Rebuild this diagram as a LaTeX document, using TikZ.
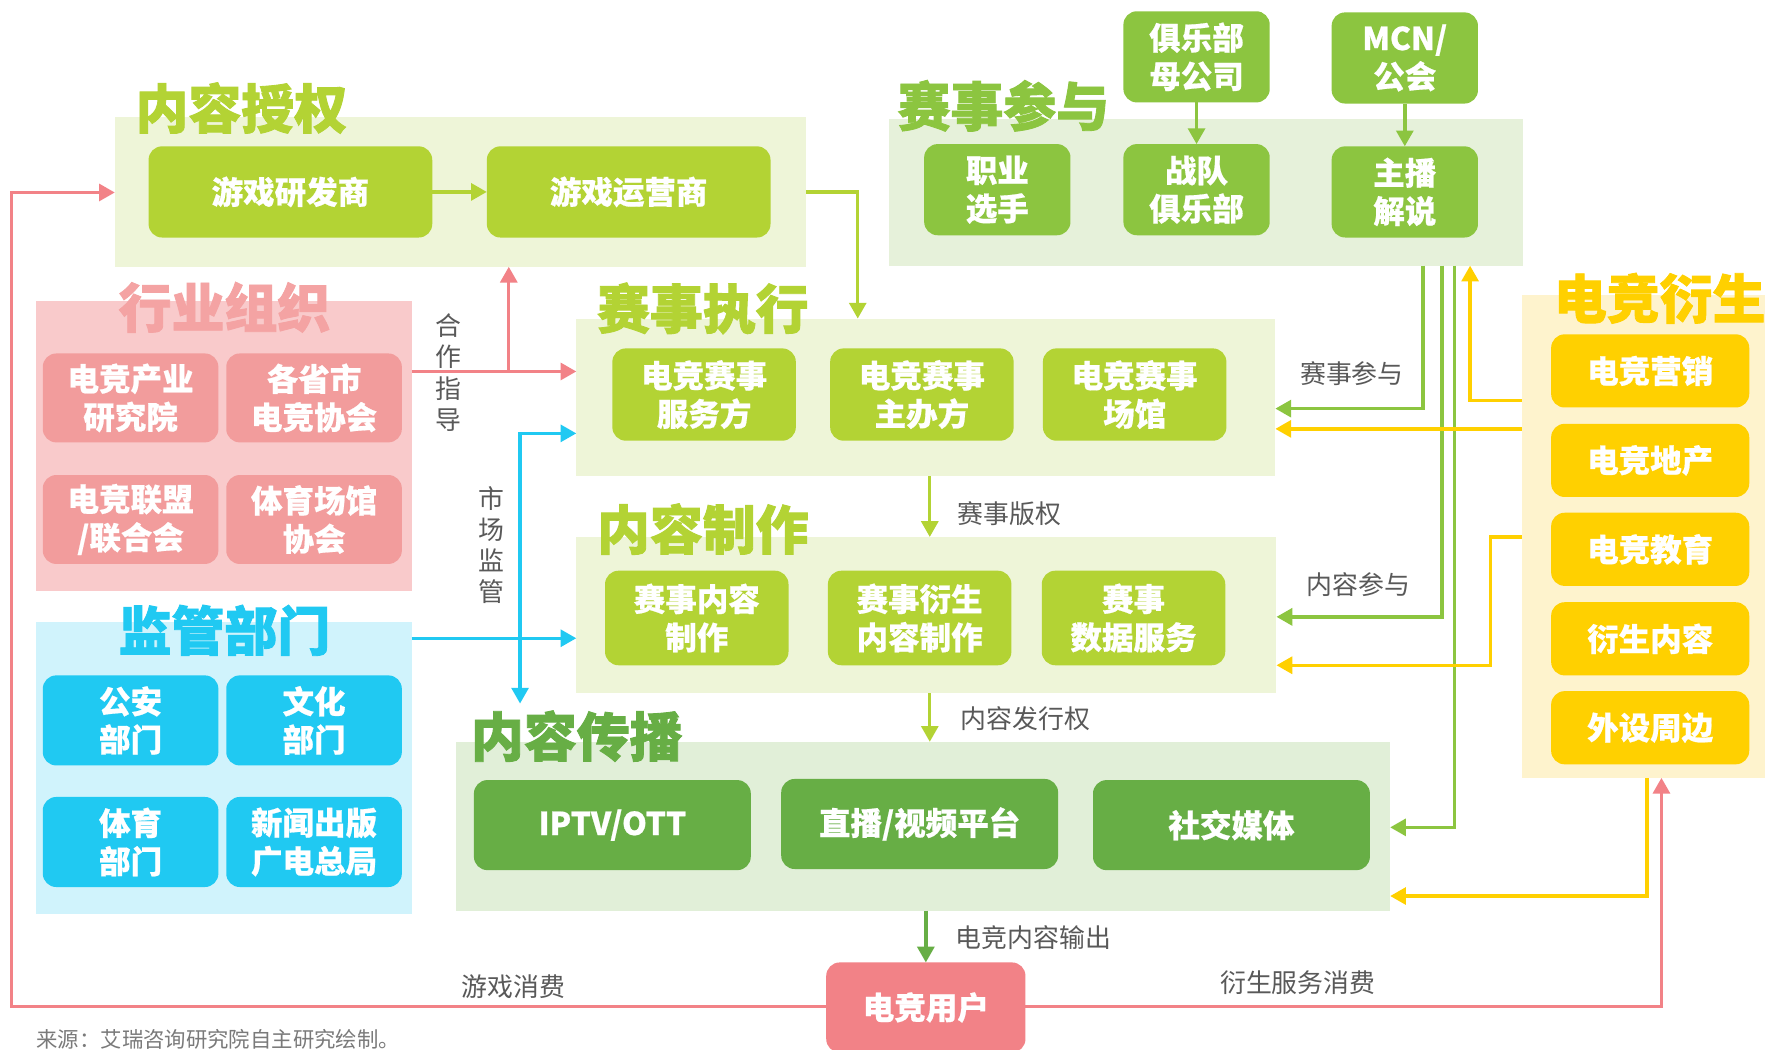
\documentclass[tikz,border=0pt]{standalone}
\usepackage{fontspec}
\setmainfont{Noto Sans CJK SC}
\newfontfamily\heavyfam{Noto Sans CJK SC}[BoldFeatures={FakeBold=1.6}]
\newfontfamily\boxfam{Noto Sans CJK SC}[BoldFeatures={FakeBold=0.6}]
\usetikzlibrary{arrows.meta}
\definecolor{yg}{HTML}{B3D334}
\definecolor{ygl}{HTML}{EEF5D8}
\definecolor{gr}{HTML}{8CC540}
\definecolor{grl}{HTML}{E6F1DA}
\definecolor{dg}{HTML}{67AE45}
\definecolor{dgl}{HTML}{E1EFD8}
\definecolor{pk}{HTML}{F29C9C}
\definecolor{pkl}{HTML}{F9CACB}
\definecolor{pkh}{HTML}{F4A3A3}
\definecolor{pkline}{HTML}{F28287}
\definecolor{cy}{HTML}{20C9F2}
\definecolor{cyl}{HTML}{D0F3FC}
\definecolor{yl}{HTML}{FFD000}
\definecolor{yll}{HTML}{FEF3CD}
\definecolor{tx}{HTML}{595959}
\newcommand\bxfont{\boxfam\fontsize{14}{17}\selectfont\bfseries}
\newcommand\hdfont{\heavyfam\fontsize{23.5}{28}\selectfont\bfseries}
\newcommand\lbfont{\fontsize{11.5}{13.8}\selectfont}
\tikzset{
  panel/.style={draw=none, inner sep=0pt, outer sep=0pt},
  head/.style={anchor=west, inner sep=0pt, font=\hdfont},
  bx/.style={rounded corners=6pt, inner sep=0pt, outer sep=0pt, align=center, text=white, font=\bxfont},
  sA/.style={minimum width=126pt, minimum height=40.5pt},
  sB/.style={minimum width=65pt, minimum height=40.5pt},
  sC/.style={minimum width=78pt, minimum height=39.5pt},
  sD/.style={minimum width=81.5pt, minimum height=41pt},
  sE/.style={minimum width=123pt, minimum height=40pt},
  sF/.style={minimum width=88pt, minimum height=32.5pt},
  lbl/.style={inner sep=0pt, text=tx, font=\lbfont, align=center},
  conn/.style={line width=1.5pt, -{Triangle[length=7pt,width=7.5pt]}},
  cYG/.style={conn, draw=yg},
  cGR/.style={conn, draw=gr},
  cDG/.style={conn, draw=dg},
  cPK/.style={conn, draw=pkline},
  cCY/.style={conn, draw=cy},
  cYL/.style={conn, draw=yl},
}
\begin{document}
\begin{tikzpicture}[x=0.5pt, y=-0.5pt]
\useasboundingbox (0,0) rectangle (1568,932);
\clip (0,0) rectangle (1568,932);
\fill[white] (0,0) rectangle (1568,932);
% panels
\node[panel, fill=ygl, minimum width=307pt, minimum height=66.5pt] (pAuth) at (409,170.5) {};
\node[panel, fill=grl, minimum width=281.5pt, minimum height=65pt] (pPart) at (1071.5,171) {};
\node[panel, fill=pkl, minimum width=167pt, minimum height=129pt] (pInd) at (199,396) {};
\node[panel, fill=cyl, minimum width=167pt, minimum height=129.5pt] (pReg) at (199,682.5) {};
\node[panel, fill=ygl, minimum width=310.5pt, minimum height=70pt] (pExec) at (822.5,353) {};
\node[panel, fill=ygl, minimum width=311pt, minimum height=69.5pt] (pProd) at (823,546.5) {};
\node[panel, fill=dgl, minimum width=415pt, minimum height=75pt] (pDist) at (820,734) {};
\node[panel, fill=yll, minimum width=108pt, minimum height=214.5pt] (pDeriv) at (1460,476.5) {};
% headings
\node[head, text=yg] (hAuth) at (120,96) {内容授权};
\node[head, text=pkh] (hInd) at (105,273) {行业组织};
\node[head, text=yg] (hExec) at (530,274) {赛事执行};
\node[head, text=gr] (hPart) at (797,94) {赛事参与};
\node[head, text=yg] (hProd) at (530,470) {内容制作};
\node[head, text=cy] (hReg) at (105,560) {监管部门};
\node[head, text=dg] (hDist) at (418,654) {内容传播};
\node[head, text=yl] (hDeriv) at (1380,265) {电竞衍生};
% boxes
\node[bx, sA, fill=yg] (bDev) at (258,170.5) {游戏研发商};
\node[bx, sA, fill=yg] (bOp) at (558.5,170.5) {游戏运营商};
\node[bx, sB, fill=gr] (bParent) at (1063,50.5) {俱乐部\\母公司};
\node[bx, sB, fill=gr] (bMCN) at (1248,51.5) {MCN/\\公会};
\node[bx, sB, fill=gr] (bPlayer) at (886,168.5) {职业\\选手};
\node[bx, sB, fill=gr] (bTeam) at (1063,168.5) {战队\\俱乐部};
\node[bx, sB, fill=gr] (bHost) at (1248,170.5) {主播\\解说};
\node[bx, sC, fill=pk] (bInst) at (116,353.5) {电竞产业\\研究院};
\node[bx, sC, fill=pk] (bProv) at (279,353.5) {各省市\\电竞协会};
\node[bx, sC, fill=pk] (bLeague) at (116,461.5) {电竞联盟\\/联合会};
\node[bx, sC, fill=pk] (bVenA) at (279,461.5) {体育场馆\\协会};
\node[bx, sC, minimum height=40pt, fill=cy] (bPolice) at (116,640) {公安\\部门};
\node[bx, sC, minimum height=40pt, fill=cy] (bCult) at (279,640) {文化\\部门};
\node[bx, sC, minimum height=40pt, fill=cy] (bSport) at (116,748) {体育\\部门};
\node[bx, sC, minimum height=40pt, fill=cy] (bPress) at (279,748) {新闻出版\\广电总局};
\node[bx, sD, fill=yg] (bSvc) at (625.5,350.5) {电竞赛事\\服务方};
\node[bx, sD, fill=yg] (bOrg) at (819,350.5) {电竞赛事\\主办方};
\node[bx, sD, fill=yg] (bVen) at (1008,350.5) {电竞赛事\\场馆};
\node[bx, sD, minimum height=42pt, fill=yg] (bCProd) at (619,549) {赛事内容\\制作};
\node[bx, sD, minimum height=42pt, fill=yg] (bDerC) at (817,549) {赛事衍生\\内容制作};
\node[bx, sD, minimum height=42pt, fill=yg] (bData) at (1007,549) {赛事\\数据服务};
\node[bx, sE, fill=dg] (bIPTV) at (544,733) {IPTV/OTT};
\node[bx, sE, fill=dg] (bLive) at (817,732) {直播/视频平台};
\node[bx, sE, fill=dg] (bSoc) at (1094,733) {社交媒体};
\node[bx, sF, fill=yl] (bMkt) at (1466,329.5) {电竞营销};
\node[bx, sF, fill=yl] (bEst) at (1466,409) {电竞地产};
\node[bx, sF, fill=yl] (bEdu) at (1466,488) {电竞教育};
\node[bx, sF, fill=yl] (bDC) at (1466,567.5) {衍生内容};
\node[bx, sF, fill=yl] (bPer) at (1466,646.5) {外设周边};
\node[bx, minimum width=88.5pt, minimum height=40pt, fill=pkline] (bUser) at (822.5,895) {电竞用户};
% labels
\node[lbl] (lCoop) at (398,331) {合\\作\\指\\导};
\node[lbl] (lMkt) at (437,484) {市\\场\\监\\管};
\node[lbl] (lPart) at (1201,332) {赛事参与};
\node[lbl] (lCont) at (1207,519) {内容参与};
\node[lbl] (lRight) at (897,456) {赛事版权};
\node[lbl] (lPub) at (911,638) {内容发行权};
\node[lbl] (lOut) at (918,833) {电竞内容输出};
\node[lbl] (lDer) at (1153,873) {衍生服务消费};
\node[lbl] (lGame) at (456,877) {游戏消费};
\node[inner sep=0pt, anchor=west, text=tx!80, font=\fontsize{9.5}{11}\selectfont] (src) at (32,923) {来源：艾瑞咨询研究院自主研究绘制。};
% connectors
\coordinate (xA) at (762,0);
\draw[cYG] (bDev) -- (bOp);
\draw[cYG] (pAuth.east) -| (pExec.north -| xA);
\coordinate (jP) at (452,330);
\draw[cPK] (pInd.east |- jP) -- (pExec.west |- jP);
\draw[cPK] (jP) -- (pAuth.south -| jP);
\coordinate (yC) at (462,567);
\draw[cCY] (pReg.east |- yC) -- (pProd.west |- yC);
\coordinate (cTop) at (462,385);
\coordinate (cBot) at (462,625);
\draw[cCY, {Triangle[length=7pt,width=7.5pt]}-{Triangle[length=7pt,width=7.5pt]}] (cBot) -- (cTop) -- (pExec.west |- cTop);
\coordinate (xV) at (826,0);
\draw[cYG] (pExec.south -| xV) -- (pProd.north -| xV);
\draw[cYG] (pProd.south -| xV) -- (pDist.north -| xV);
\draw[cDG] (pDist.south -| bUser) -- (bUser.north);
\draw[cGR] (bParent) -- (bTeam);
\draw[cGR] (bMCN) -- (bHost);
\coordinate (g1) at (1264,363);
\coordinate (g2) at (1281,548);
\coordinate (g3) at (1292,735);
\draw[cGR] (pPart.south -| g1) |- (pExec.east |- g1);
\draw[cGR] (pPart.south -| g2) |- (pProd.east |- g2);
\draw[cGR] (pPart.south -| g3) |- (pDist.east |- g3);
\coordinate (y1) at (1306,356);
\draw[cYL] (pDeriv.west |- y1) -| (pPart.south -| y1);
\coordinate (y2) at (1340,381);
\draw[cYL] (pDeriv.west |- y2) -- (pExec.east |- y2);
\coordinate (y3a) at (1324,477);
\coordinate (y3b) at (1324,591);
\draw[cYL] (pDeriv.west |- y3a) -- (y3a) -- (y3b) -- (pProd.east |- y3b);
\coordinate (y4) at (1463,796);
\draw[cYL] (pDeriv.south -| y4) |- (pDist.east |- y4);
\coordinate (p1) at (1476,894);
\draw[cPK] (bUser.east |- p1) -| (pDeriv.south -| p1);
\coordinate (p2) at (10,171);
\draw[cPK] (bUser.west |- p1) -| (p2) -- (pAuth.west |- p2);
\end{tikzpicture}
\end{document}
